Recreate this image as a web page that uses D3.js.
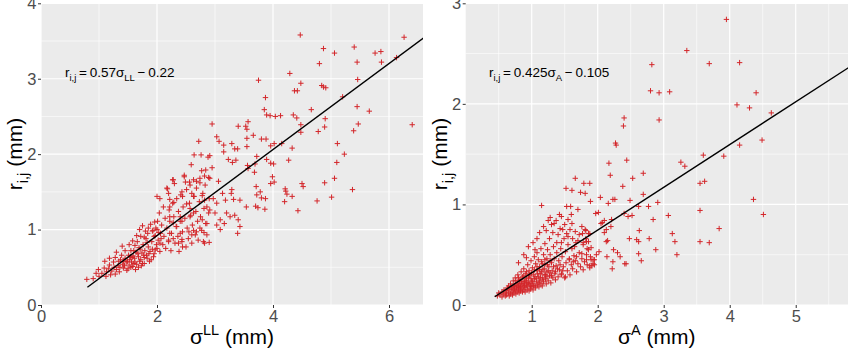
<!DOCTYPE html>
<html>
<head>
<meta charset="utf-8">
<script src="https://cdn.jsdelivr.net/npm/d3@7"></script>
<style>
  body { margin: 0; background: #fff; }
  text { font-family: "Liberation Sans", Arial, sans-serif; }
</style>
</head>
<body>
<svg id="chart" width="850" height="354"></svg>
<script>
// left panel: r(i,j) vs sigma LL
var llPoints = [
  [0.79,0.34],[0.99,0.47],[1.09,0.49],[1.13,0.44],[1.18,0.53],[1.20,0.40],[1.25,0.57],[1.28,0.63],[1.30,0.47],[1.33,0.52],
  [1.35,0.44],[1.37,0.60],[1.39,0.66],[1.41,0.54],[1.42,0.49],[1.45,0.62],[1.47,0.57],[1.48,0.46],[1.51,0.66],[1.52,0.53],
  [1.53,0.60],[1.55,0.72],[1.56,0.57],[1.58,0.51],[1.59,0.65],[1.61,0.62],[1.62,0.79],[1.64,0.70],[1.65,0.54],[1.66,0.84],
  [1.68,0.64],[1.70,0.58],[1.71,0.74],[1.72,0.91],[1.74,0.69],[1.75,0.55],[1.76,0.80],[1.78,0.63],[1.79,0.72],[1.81,0.88],
  [1.82,0.66],[1.84,0.95],[1.85,0.77],[1.87,0.58],[1.88,0.71],[1.89,1.07],[1.91,0.84],[1.93,0.99],[1.94,0.64],[1.95,0.91],
  [1.97,0.73],[1.98,1.02],[1.99,0.80],[2.01,1.11],[2.02,0.86],[2.04,1.22],[2.05,0.71],[2.06,0.95],[2.08,1.06],[2.10,0.80],
  [2.11,1.30],[2.12,0.91],[2.14,1.15],[2.15,0.75],[2.17,1.02],[2.18,1.54],[2.20,0.86],[2.21,1.26],[2.22,1.11],[2.24,0.72],
  [2.25,0.95],[2.27,1.35],[2.28,1.66],[2.29,1.17],[2.31,0.82],[2.33,1.04],[2.34,1.41],[2.36,0.91],[2.37,1.24],[2.38,0.71],
  [2.40,1.11],[2.41,1.46],[2.43,0.84],[2.44,0.97],[2.45,1.30],[2.47,1.70],[2.48,1.15],[2.50,0.77],[2.51,1.53],[2.52,1.02],
  [2.54,0.88],[2.56,1.35],[2.57,1.59],[2.58,1.19],[2.60,0.82],[2.61,1.06],[2.63,1.66],[2.64,1.44],[2.66,0.93],[2.67,1.24],
  [2.68,1.55],[2.70,1.11],[2.71,0.86],[2.73,1.37],[2.74,1.68],[2.75,1.17],[2.77,0.99],[2.79,1.48],[2.80,0.84],[2.81,1.28],
  [2.83,1.59],[2.84,1.08],[2.86,0.93],[2.89,1.22],[2.90,1.41],
  [1.05,0.42],[1.12,0.38],[1.22,0.45],[1.28,0.41],[1.36,0.50],[1.42,0.58],[1.50,0.48],[1.55,0.50],[1.60,0.55],[1.63,0.47],
  [1.68,0.50],[1.72,0.60],[1.78,0.55],[1.83,0.62],[1.90,0.60],[1.95,0.68],[2.00,0.75],[2.05,0.82],[1.45,0.72],[1.52,0.80],
  [1.58,0.85],[1.65,0.92],[1.70,1.00],[1.75,1.05],[1.80,0.98],[1.85,1.02],[1.92,0.98],[1.96,1.10],[2.00,1.00],[1.40,0.78],
  [1.30,0.70],[1.18,0.62],[1.10,0.58],[0.95,0.42],[0.90,0.35],[1.00,0.38],
  [1.44,0.52],[1.49,0.58],[1.57,0.63],[1.62,0.57],[1.67,0.68],[1.73,0.52],[1.77,0.66],[1.86,0.68],[1.92,0.74],[1.97,0.92],
  [2.03,0.96],[2.07,0.88],[1.83,0.83],[1.78,0.90],[1.69,0.76],[1.60,0.72],[1.54,0.64],[1.34,0.58],[1.26,0.50],[1.16,0.48],
  [4.47,3.58],[6.26,3.55],[5.40,3.42],[4.87,3.40],[5.06,3.34],[5.76,3.34],[5.86,3.36],[5.87,3.22],[5.45,3.22],[4.80,3.20],
  [6.13,3.28],[4.29,3.07],[3.75,2.98],[4.48,2.94],[5.46,2.99],[4.37,2.84],[4.42,2.84],[4.84,2.91],[4.87,2.89],[4.91,2.88],
  [5.20,2.76],[3.87,2.75],[5.45,2.63],[4.66,2.59],[5.66,2.57],[3.85,2.59],[3.89,2.52],[3.95,2.51],[4.04,2.50],[4.13,2.51],
  [4.35,2.52],[4.41,2.48],[2.95,2.40],[5.47,2.40],[6.40,2.39],[4.90,2.47],[4.89,2.36],[4.48,2.39],[4.48,2.29],[4.78,2.30],
  [5.39,2.31],[3.57,2.43],[3.53,2.37],[3.55,2.33],[3.40,2.37],[3.66,2.25],[3.80,2.20],[3.88,2.20],[3.55,2.21],[2.72,2.17],
  [3.03,2.23],[3.07,2.17],[3.15,2.12],[3.29,2.14],[3.34,2.07],[3.39,2.07],[3.96,2.11],[4.02,2.14],[4.15,2.14],[4.33,2.08],
  [5.11,2.14],[3.55,2.10],[3.15,2.03],[2.64,1.99],[2.76,1.99],[2.88,1.96],[2.91,1.98],[5.23,2.00],[4.27,1.92],[5.10,1.89],
  [2.59,1.86],[2.95,1.82],[3.23,1.93],[3.30,1.89],[3.36,1.92],[3.72,1.97],[3.69,1.87],[3.89,1.93],[3.96,1.88],[4.01,1.87],
  [3.56,1.85],[3.57,1.81],[2.77,1.78],[2.84,1.79],[2.82,1.71],[2.47,1.72],[2.49,1.63],[2.56,1.63],[2.27,1.66],[2.30,1.61],
  [2.68,1.64],[2.74,1.62],[2.89,1.69],[2.91,1.68],[3.06,1.64],[3.99,1.70],[3.96,1.61],[4.02,1.63],[3.68,1.76],[5.06,1.68],
  [4.50,1.61],[4.52,1.57],[4.89,1.62],[5.37,1.53],[4.21,1.54],[4.22,1.51],[4.24,1.47],[4.20,1.37],[4.76,1.38],[5.01,1.43],
  [4.33,1.44],[4.43,1.25],[3.71,1.57],[3.78,1.50],[3.72,1.46],[3.80,1.42],[3.87,1.41],[3.70,1.31],[3.74,1.29],[3.86,1.27],
  [3.54,1.30],[3.29,1.53],[3.28,1.48],[3.32,1.40],[3.43,1.39],[3.13,1.48],[3.18,1.39],[2.97,1.41],[3.03,1.35],[2.78,1.45],
  [2.82,1.39],[2.60,1.48],[2.63,1.44],[2.43,1.50],[2.44,1.44],[2.17,1.55],[2.20,1.48],[2.00,1.44],[2.05,1.41],[2.22,1.40],
  [2.29,1.36],[2.22,1.30],[2.51,1.34],[2.57,1.28],[2.86,1.30],[2.91,1.26],[3.00,1.22],[3.20,1.22],[3.26,1.17],[3.34,1.19],
  [3.40,1.13],[3.43,1.04],[3.39,0.95],[3.09,1.13],[3.16,1.08],[3.03,1.06],[3.09,1.00],[2.78,1.13],[2.86,1.08],[2.74,1.02],
  [2.68,0.97],[2.81,0.96],[2.57,1.17],[2.63,1.22],[2.40,1.17],[2.43,1.11],[2.34,1.04],[2.22,1.17],[2.28,1.09],[2.55,0.97],
  [2.60,0.93],[2.63,0.99],[2.90,0.83],[2.82,0.82],[2.40,0.95],[2.43,0.87],[2.37,0.82],[2.44,0.77],[2.22,0.95],[2.28,0.88],
  [2.20,0.84]
];

// right panel: r(i,j) vs sigma A
var aPoints = [
  [3.95,2.84],[3.35,2.53],[2.82,2.39],[3.69,2.40],[4.15,2.41],[2.80,2.13],[2.93,2.11],[3.09,2.12],[4.40,2.11],[4.11,1.99],
  [4.30,1.96],[4.63,1.91],[2.40,1.86],[2.39,1.78],[2.93,1.84],[2.27,1.61],[2.28,1.59],[4.49,1.64],[4.15,1.59],[2.44,1.44],
  [2.17,1.41],[3.26,1.42],[3.32,1.38],[3.60,1.49],[3.91,1.48],[2.19,1.29],[2.53,1.26],[2.69,1.31],[1.66,1.26],[3.55,1.21],
  [3.62,1.23],[1.52,1.16],[1.61,1.14],[1.79,1.21],[1.88,1.21],[1.74,1.12],[1.81,1.11],[1.89,1.03],[2.04,1.07],[2.23,1.05],
  [2.26,1.05],[2.16,1.01],[2.49,1.04],[2.69,1.10],[2.91,1.02],[4.36,1.05],[1.53,0.98],[1.59,0.98],[1.70,0.95],[1.97,0.91],
  [2.01,0.92],[2.40,0.91],[2.46,0.88],[2.52,0.89],[2.62,0.98],[2.77,0.98],[2.84,0.85],[3.07,0.89],[3.55,0.94],[4.51,0.90],
  [1.15,0.99],[1.28,0.87],[1.34,0.81],[1.37,0.84],[1.45,0.88],[1.47,0.75],[1.53,0.71],[1.61,0.81],[1.66,0.73],[1.76,0.78],
  [1.81,0.75],[1.86,0.71],[2.05,0.81],[2.07,0.82],[2.13,0.75],[2.20,0.78],[2.21,0.85],[2.63,0.74],[2.59,0.65],[2.62,0.63],
  [2.48,0.66],[2.78,0.66],[3.13,0.71],[3.17,0.63],[3.84,0.76],[3.55,0.63],[3.69,0.62],[2.88,0.55],[2.66,0.44],[2.41,0.41],
  [3.20,0.50],[2.24,0.55],[2.30,0.52],[2.14,0.48],[2.23,0.43],[2.02,0.53],[2.22,0.36],[2.62,0.51],[1.89,0.48],[1.95,0.40],
  [1.83,0.45],[1.91,0.39],[1.76,0.51],[1.68,0.48],[1.57,0.45],[1.63,0.43],[1.51,0.28],[1.45,0.31],[2.38,1.18],[2.10,0.84],
  [2.10,0.72],[2.13,0.63],[2.15,0.64],[1.78,0.62],[1.83,0.63],[1.84,0.56],[1.77,0.71],[1.82,0.74],[1.88,0.71],[2.34,0.48],
  [2.43,0.41],[1.93,0.45],[1.88,0.39],
  [0.48,0.09],[0.50,0.12],[0.52,0.10],[0.55,0.08],[0.55,0.13],[0.57,0.11],[0.58,0.15],[0.60,0.09],[0.60,0.12],[0.62,0.14],
  [0.62,0.10],[0.63,0.17],[0.65,0.12],[0.65,0.19],[0.66,0.09],[0.67,0.15],[0.68,0.11],[0.68,0.21],[0.70,0.13],[0.70,0.17],
  [0.71,0.10],[0.72,0.24],[0.72,0.15],[0.73,0.12],[0.74,0.19],[0.75,0.14],[0.75,0.27],[0.76,0.11],[0.77,0.17],[0.78,0.22],
  [0.78,0.13],[0.79,0.30],[0.80,0.15],[0.80,0.19],[0.81,0.12],[0.82,0.25],[0.82,0.17],[0.83,0.14],[0.84,0.33],[0.84,0.21],
  [0.85,0.16],[0.86,0.13],[0.86,0.28],[0.87,0.19],[0.88,0.15],[0.88,0.36],[0.89,0.23],[0.90,0.17],[0.90,0.13],[0.91,0.31],
  [0.92,0.20],[0.92,0.26],[0.93,0.15],[0.94,0.40],[0.94,0.18],[0.95,0.22],[0.96,0.14],[0.96,0.34],[0.97,0.29],[0.98,0.19],
  [0.98,0.16],[0.99,0.44],[1.00,0.24],[1.00,0.18],[1.01,0.37],[1.02,0.21],[1.02,0.15],[1.03,0.30],[1.04,0.48],[1.04,0.26],
  [1.05,0.19],[1.06,0.41],[1.06,0.17],[1.07,0.23],[1.08,0.34],[1.08,0.52],[1.09,0.20],[1.10,0.28],[1.10,0.45],[1.11,0.18],
  [1.12,0.38],[1.12,0.24],[1.13,0.31],[1.14,0.56],[1.14,0.21],[1.15,0.43],[1.16,0.27],[1.16,0.19],[1.17,0.35],[1.18,0.50],
  [1.18,0.23],[1.19,0.30],[1.20,0.61],[1.20,0.40],[1.21,0.26],[1.22,0.21],[1.23,0.46],[1.23,0.33],[1.24,0.55],[1.25,0.24],
  [1.26,0.38],[1.27,0.66],[1.27,0.29],[1.28,0.50],[1.29,0.22],[1.30,0.42],[1.31,0.34],[1.32,0.72],[1.32,0.27],[1.33,0.58],
  [1.34,0.46],[1.35,0.31],[1.36,0.25],[1.37,0.39],[1.38,0.62],[1.38,0.52],[1.40,0.28],[1.41,0.44],[1.42,0.35],[1.43,0.76],
  [1.44,0.56],[1.45,0.30],[1.46,0.48],[1.48,0.38],[1.49,0.66],[1.50,0.27],[1.51,0.53],[1.52,0.42],[1.54,0.34],[1.55,0.60],
  [1.57,0.46],[1.58,0.30],[1.60,0.40],[1.61,0.56],[1.62,0.36],[1.64,0.49],[1.66,0.44],[1.67,0.62],[1.68,0.33],[1.70,0.41],
  [1.72,0.52],[1.74,0.38],[1.76,0.46],[1.78,0.35],[1.80,0.43],[1.82,0.66],[1.84,0.40],[1.86,0.55],[1.88,0.37],[1.90,0.45],
  [1.93,0.41],
  [0.88,0.50],[0.95,0.58],[1.02,0.62],[1.08,0.66],[1.12,0.72],[1.18,0.78],[1.22,0.74],[1.25,0.84],[1.30,0.80],[0.80,0.42],
  [0.92,0.47],[1.05,0.55],[1.40,0.70],[1.45,0.62],[1.50,0.80],[1.55,0.68],[1.58,0.75],[1.62,0.66],[1.65,0.58],[1.70,0.64],
  [1.72,0.70],[1.78,0.60],[1.83,0.50],[1.86,0.63],[1.90,0.57],[1.95,0.45],[1.98,0.50],[1.60,0.90],[1.55,0.85],[1.42,0.90],
  [0.64,0.16],[0.69,0.18],[0.74,0.16],[0.76,0.20],[0.79,0.18],[0.81,0.21],[0.83,0.18],[0.85,0.23],[0.87,0.21],[0.89,0.19],
  [0.91,0.24],[0.93,0.22],[0.95,0.27],[0.97,0.21],[0.99,0.26],[1.01,0.23],[1.03,0.19],[1.05,0.28],[1.07,0.26],[1.09,0.31],
  [1.11,0.22],[1.13,0.27],[1.15,0.33],[1.17,0.25],[1.19,0.36],[1.21,0.30],[1.23,0.28],[1.25,0.34],[1.28,0.32],[1.30,0.29],
  [0.72,0.19],[0.76,0.24],[0.80,0.27],[0.84,0.25],[0.88,0.29],[0.92,0.33],[0.96,0.30],[1.00,0.32],[1.04,0.35],[1.08,0.38],
  [1.12,0.35],[1.16,0.41],[1.20,0.45],[1.24,0.40],[1.28,0.44],[1.33,0.38],[1.36,0.33],[1.39,0.36],[1.43,0.40],[1.47,0.34]
];

// fitted lines: slope, intercept, and x span drawn
var llFit = [0.57, -0.22];
var aFit = [0.425, -0.105];
var llFitSpan = [0.8, 6.6];
var aFitSpan = [0.44, 5.8];

var llXTicks = [0, 2, 4, 6];
var llXMinor = [1, 3, 5];
var llYTicks = [0, 1, 2, 3, 4];
var llYMinor = [0.5, 1.5, 2.5, 3.5];
var aXTicks = [1, 2, 3, 4, 5];
var aXMinor = [0.5, 1.5, 2.5, 3.5, 4.5, 5.5];
var aYTicks = [0, 1, 2, 3];
var aYMinor = [0.5, 1.5, 2.5];

var svg = d3.select("#chart");

// writes a text made of normal / sub / sup parts
function richText(sel, parts, size, small) {
  var shift = 0;
  parts.forEach(function(p) {
    var target = p[1] == "sub" ? size * 0.3 : (p[1] == "sup" ? -size * 0.42 : 0);
    sel.append("tspan")
      .attr("dy", target - shift)
      .attr("font-size", p[1] == "n" ? size : small)
      .text(p[0]);
    shift = target;
  });
}

function drawPanel(p) {
  var g = svg.append("g");
  var x = d3.scaleLinear().domain(p.xDomain).range([p.left, p.right]);
  var y = d3.scaleLinear().domain(p.yDomain).range([305, 3.3]);

  g.append("rect")
    .attr("x", p.left).attr("y", 3.3)
    .attr("width", p.right - p.left).attr("height", 305 - 3.3)
    .attr("fill", "#EBEBEB");

  var clipId = "clip" + p.id;
  g.append("clipPath").attr("id", clipId).append("rect")
    .attr("x", p.left).attr("y", 3.3)
    .attr("width", p.right - p.left).attr("height", 305 - 3.3);

  g.selectAll(".vmin").data(p.xMinor).enter().append("line")
    .attr("x1", x).attr("x2", x).attr("y1", 3.3).attr("y2", 305)
    .attr("stroke", "#fff").attr("stroke-width", 0.6);
  g.selectAll(".hmin").data(p.yMinor).enter().append("line")
    .attr("y1", y).attr("y2", y).attr("x1", p.left).attr("x2", p.right)
    .attr("stroke", "#fff").attr("stroke-width", 0.6);
  g.selectAll(".vmaj").data(p.xTicks).enter().append("line")
    .attr("x1", x).attr("x2", x).attr("y1", 3.3).attr("y2", 305)
    .attr("stroke", "#fff").attr("stroke-width", 1.2);
  g.selectAll(".hmaj").data(p.yTicks).enter().append("line")
    .attr("y1", y).attr("y2", y).attr("x1", p.left).attr("x2", p.right)
    .attr("stroke", "#fff").attr("stroke-width", 1.2);

  var marks = g.append("g").attr("clip-path", "url(#" + clipId + ")");
  marks.selectAll("path.pt").data(p.points).enter().append("path")
    .attr("class", "pt")
    .attr("d", "M-2.7,0H2.7M0,-2.7V2.7")
    .attr("transform", function(d) { return "translate(" + x(d[0]) + "," + y(d[1]) + ")"; })
    .attr("stroke", "#d3262a")
    .attr("stroke-width", 1)
    .attr("fill", "none");

  var line = d3.line()
    .x(function(d) { return x(d); })
    .y(function(d) { return y(p.fit[0] * d + p.fit[1]); });
  marks.append("path")
    .datum(p.fitSpan)
    .attr("d", line)
    .attr("stroke", "#000")
    .attr("stroke-width", 1.4)
    .attr("fill", "none");

  var fmt = d3.format("d");
  var xa = g.append("g").attr("transform", "translate(0,305)")
    .call(d3.axisBottom(x).tickValues(p.xTicks).tickFormat(fmt).tickSize(3).tickPadding(2));
  var ya = g.append("g").attr("transform", "translate(" + p.left + ",0)")
    .call(d3.axisLeft(y).tickValues(p.yTicks).tickFormat(fmt).tickSize(3).tickPadding(1.5));
  [xa, ya].forEach(function(a) {
    a.select(".domain").remove();
    a.selectAll(".tick line").attr("stroke", "#333");
    a.selectAll(".tick text")
      .attr("fill", "#4D4D4D")
      .attr("font-size", 16.5)
      .attr("font-family", "Liberation Sans, Arial, sans-serif");
  });

  // x title
  var xt = g.append("text")
    .attr("x", (p.left + p.right) / 2).attr("y", 344)
    .attr("text-anchor", "middle").attr("fill", "#000");
  richText(xt, [["σ", "n"], [p.xSup, "sup"], [" (mm)", "n"]], 21, 14.5);

  // y title
  var yt = g.append("text")
    .attr("transform", "translate(" + p.yTitleX + ",154) rotate(-90)")
    .attr("text-anchor", "middle").attr("fill", "#000");
  richText(yt, [["r", "n"], ["i,j", "sub"], [" (mm)", "n"]], 21, 14.5);

  // equation
  var eq = g.append("text")
    .attr("x", p.eqX).attr("y", 77).attr("fill", "#000");
  richText(eq, [["r", "n"], ["i,j", "sub"], ["\u2009=\u20090." + p.eqText[0] + "σ", "n"],
                [p.eqText[1], "sub"], ["\u2009\u2212\u20090." + p.eqText[2], "n"]], 13.5, 9.5);
}

drawPanel({
  id: "ll", points: llPoints, fit: llFit, fitSpan: llFitSpan,
  left: 41, right: 423, xDomain: [0, 6.586], yDomain: [0, 4],
  xTicks: llXTicks, xMinor: llXMinor, yTicks: llYTicks, yMinor: llYMinor,
  xSup: "LL", yTitleX: 22, eqX: 65, eqText: ["57", "LL", "22"]
});

drawPanel({
  id: "a", points: aPoints, fit: aFit, fitSpan: aFitSpan,
  left: 465.7, right: 848, xDomain: [0, 5.792], yDomain: [0, 3],
  xTicks: aXTicks, xMinor: aXMinor, yTicks: aYTicks, yMinor: aYMinor,
  xSup: "A", yTitleX: 447, eqX: 489, eqText: ["425", "A", "105"]
});
</script>
</body>
</html>
